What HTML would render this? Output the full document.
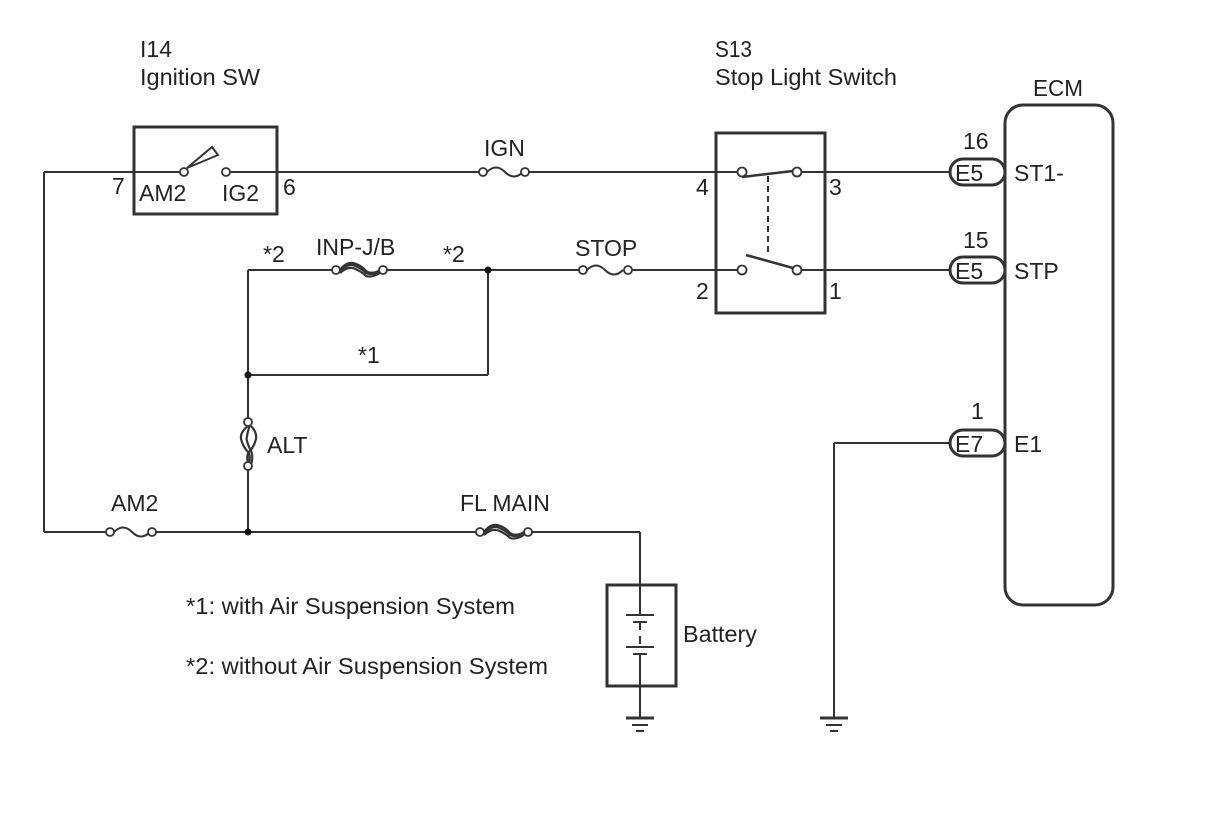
<!DOCTYPE html>
<html><head><meta charset="utf-8"><style>
html,body{margin:0;padding:0;background:#fff;}
svg{display:block;}
text{font-family:"Liberation Sans",Arial,sans-serif;font-size:23px;fill:#222;}
</style></head><body>
<svg width="1208" height="814" viewBox="0 0 1208 814" xmlns="http://www.w3.org/2000/svg">
<g stroke="#333" stroke-width="2" fill="none">
<line x1="44" y1="172" x2="180" y2="172"/>
<line x1="230" y1="172" x2="479" y2="172"/>
<line x1="529" y1="172" x2="738" y2="172"/>
<line x1="801" y1="172" x2="950" y2="172"/>
<line x1="44" y1="172" x2="44" y2="532"/>
<rect x="134" y="127" width="143" height="87" stroke-width="3"/>
<path d="M187 168 L212 147 L218 155 Z" stroke-width="2"/>
<path d="M487 172 q9 -9 18 0 q9 9 18 0"/>
<rect x="716" y="133" width="109" height="180" stroke-width="3"/>
<line x1="742" y1="177" x2="793" y2="171" stroke-width="2.5"/>
<line x1="768" y1="176" x2="768" y2="256" stroke-dasharray="6,4"/>
<line x1="746" y1="255" x2="793" y2="268" stroke-width="2.5"/>
<line x1="248" y1="270" x2="332" y2="270"/>
<line x1="387" y1="270" x2="579" y2="270"/>
<line x1="632" y1="270" x2="738" y2="270"/>
<line x1="801" y1="270" x2="950" y2="270"/>
<path d="M587 270 q9 -9 18 0 q9 9 18 0"/>
<line x1="248" y1="270" x2="248" y2="418"/>
<line x1="488" y1="270" x2="488" y2="375"/>
<line x1="248" y1="375" x2="488" y2="375"/>
<line x1="248" y1="470" x2="248" y2="532"/>
<line x1="44" y1="532" x2="106" y2="532"/>
<line x1="156" y1="532" x2="476" y2="532"/>
<line x1="532" y1="532" x2="640" y2="532"/>
<line x1="640" y1="532" x2="640" y2="718"/>
<path d="M114 532 q9 -9 18 0 q9 9 18 0"/>
<rect x="607" y="585" width="69" height="101" stroke-width="3" fill="#fff"/>
<line x1="640" y1="585" x2="640" y2="615"/>
<line x1="640" y1="654" x2="640" y2="718"/>
<line x1="626" y1="615" x2="654" y2="615"/>
<line x1="633" y1="622" x2="647" y2="622"/>
<line x1="640" y1="622" x2="640" y2="630"/>
<line x1="640" y1="636" x2="640" y2="644"/>
<line x1="626" y1="647" x2="654" y2="647"/>
<line x1="633" y1="654" x2="647" y2="654"/>
<line x1="626" y1="718" x2="654" y2="718" stroke-width="3"/>
<line x1="632" y1="725" x2="648" y2="725"/>
<line x1="636" y1="731" x2="644" y2="731"/>
<line x1="950" y1="443" x2="834" y2="443"/>
<line x1="834" y1="443" x2="834" y2="718"/>
<line x1="820" y1="718" x2="848" y2="718" stroke-width="3"/>
<line x1="826" y1="725" x2="842" y2="725"/>
<line x1="830" y1="731" x2="838" y2="731"/>
<rect x="1005" y="105" width="108" height="500" rx="18" stroke-width="3"/>
<rect x="950" y="159" width="55" height="26" rx="13" stroke-width="3"/>
<rect x="950" y="257" width="55" height="26" rx="13" stroke-width="3"/>
<rect x="950" y="430" width="55" height="26" rx="13" stroke-width="3"/>
</g>
<g stroke="#333" stroke-width="2.2" fill="none">
<path d="M340 270 q6 -8 13 -7 q8 2 13 8 q6 4 14 -1"/>
<path d="M340 273 q6 -6 13 -5 q8 3 13 8 q6 2 14 -3"/>
<path d="M341 271 q6 -7 12 -6 q8 3 13 8 q6 3 14 -2"/>
<path d="M484 532 q6 -8 13 -7 q8 2 13 8 q6 4 14 -1"/>
<path d="M484 535 q6 -6 13 -5 q8 3 13 8 q6 2 14 -3"/>
<path d="M485 533 q6 -7 12 -6 q8 3 13 8 q6 3 14 -2"/>
<path d="M248 426 q-8 6 -7 13 q2 8 7 13 q4 6 -1 14"/>
<path d="M251 426 q6 6 5 13 q-2 8 -7 13 q-4 6 1 14"/>
<path d="M249.5 426 q-2 6 -3 13 q2 8 5 13 q2 6 -1 14"/>
</g>
<g stroke="#333" stroke-width="1.8" fill="#fff">
<circle cx="184" cy="172" r="4"/><circle cx="226" cy="172" r="4"/>
<circle cx="483" cy="172" r="4"/><circle cx="525" cy="172" r="4"/>
<circle cx="742" cy="172" r="4.5"/><circle cx="797" cy="172" r="4.5"/>
<circle cx="742" cy="270" r="4.5"/><circle cx="797" cy="270" r="4.5"/>
<circle cx="583" cy="270" r="4"/><circle cx="628" cy="270" r="4"/>
<circle cx="336" cy="270" r="4"/><circle cx="383" cy="270" r="4"/>
<circle cx="110" cy="532" r="4"/><circle cx="152" cy="532" r="4"/>
<circle cx="480" cy="532" r="4"/><circle cx="528" cy="532" r="4"/>
<circle cx="248" cy="422" r="4"/><circle cx="248" cy="466" r="4"/>
</g>
<g fill="#111">
<circle cx="488" cy="270" r="3.5"/><circle cx="248" cy="375" r="3.5"/><circle cx="248" cy="532" r="3.5"/>
</g>
<text x="140" y="57" textLength="32" lengthAdjust="spacingAndGlyphs">I14</text>
<text x="140" y="85" textLength="120" lengthAdjust="spacingAndGlyphs">Ignition SW</text>
<text x="715" y="57" textLength="37" lengthAdjust="spacingAndGlyphs">S13</text>
<text x="715" y="85" textLength="182" lengthAdjust="spacingAndGlyphs">Stop Light Switch</text>
<text x="1033" y="96" textLength="50" lengthAdjust="spacingAndGlyphs">ECM</text>
<text x="112" y="194">7</text>
<text x="139" y="201">AM2</text>
<text x="222" y="201">IG2</text>
<text x="283" y="195">6</text>
<text x="484" y="156">IGN</text>
<text x="263" y="262">*2</text>
<text x="316" y="255">INP-J/B</text>
<text x="443" y="262">*2</text>
<text x="575" y="256">STOP</text>
<text x="358" y="363">*1</text>
<text x="267" y="453">ALT</text>
<text x="111" y="511">AM2</text>
<text x="460" y="511">FL MAIN</text>
<text x="696" y="195">4</text>
<text x="829" y="195">3</text>
<text x="696" y="299">2</text>
<text x="829" y="299">1</text>
<text x="963" y="149">16</text>
<text x="955" y="181">E5</text>
<text x="1014" y="181">ST1-</text>
<text x="963" y="248">15</text>
<text x="955" y="279">E5</text>
<text x="1014" y="279">STP</text>
<text x="971" y="419">1</text>
<text x="955" y="452">E7</text>
<text x="1014" y="452">E1</text>
<text x="683" y="642" textLength="74" lengthAdjust="spacingAndGlyphs">Battery</text>
<text x="186" y="614" textLength="329" lengthAdjust="spacingAndGlyphs">*1: with Air Suspension System</text>
<text x="186" y="674" textLength="362" lengthAdjust="spacingAndGlyphs">*2: without Air Suspension System</text>
</svg>
</body></html>
